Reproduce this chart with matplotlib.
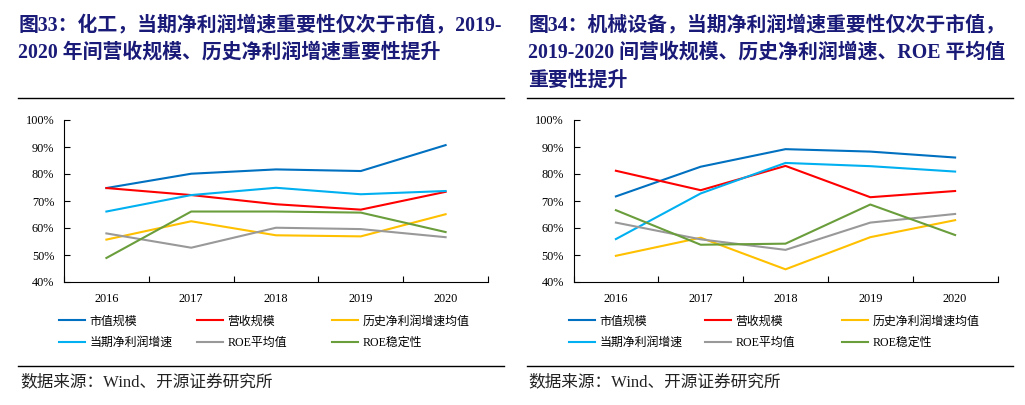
import matplotlib
matplotlib.use('Agg')
import matplotlib.pyplot as plt
from matplotlib.lines import Line2D

plt.rcParams['font.family'] = ['Liberation Serif', 'Noto Sans CJK SC', 'DejaVu Sans']

# 数据
years = ['2016', '2017', '2018', '2019', '2020']
series_names = ['市值规模', '营收规模', '历史净利润增速均值', '当期净利润增速', 'ROE平均值', 'ROE稳定性']
colors = ['#0070C0', '#FF0000', '#FFC000', '#00B0F0', '#999999', '#6A9D3B']

# 图33 化工
chem_mktcap = [74.8, 80.1, 81.7, 81.1, 90.7]
chem_revenue = [74.8, 72.2, 68.8, 66.8, 73.4]
chem_hist_profit = [55.7, 62.5, 57.3, 56.9, 65.1]
chem_cur_profit = [66.1, 72.2, 74.9, 72.5, 73.7]
chem_roe_avg = [58.0, 52.7, 60.1, 59.6, 56.6]
chem_roe_stab = [48.9, 66.1, 66.1, 65.7, 58.5]

# 图34 机械设备
mach_mktcap = [71.7, 82.7, 89.2, 88.3, 86.1]
mach_revenue = [81.2, 74.0, 83.0, 71.4, 73.7]
mach_hist_profit = [49.7, 56.4, 44.7, 56.6, 62.9]
mach_cur_profit = [55.9, 72.8, 84.1, 82.9, 80.9]
mach_roe_avg = [62.0, 55.8, 51.9, 62.0, 65.2]
mach_roe_stab = [66.6, 53.8, 54.2, 68.7, 57.4]

yticks = [40, 50, 60, 70, 80, 90, 100]

title_color = '#1A1A78'
W, H = 1025, 405

fig = plt.figure(figsize=(10.25, 4.05), dpi=100)


def px(x, y):
    return x / W, 1 - y / H


def draw_panel(left_px, data):
    l, _ = px(left_px, 0)
    ax = fig.add_axes([l, 1 - 282 / H, 424 / W, 162 / H])
    handles = []
    for vals, name, c in zip(data, series_names, colors):
        h, = ax.plot(range(len(years)), vals, color=c, lw=1.5, label=name)
        handles.append(h)
    ax.set_xlim(-0.5, 4.5)
    ax.set_ylim(40, 100)
    ax.set_yticks(yticks)
    ax.set_yticklabels([f'{v}%' for v in yticks])
    ax.set_xticks([i - 0.5 for i in range(len(years) + 1)])
    ax.set_xticklabels([])
    ax.set_xticks(range(len(years)), minor=True)
    ax.set_xticklabels(years, minor=True)
    ax.tick_params(axis='x', which='major', direction='in', length=4, width=0.8)
    ax.tick_params(axis='x', which='minor', length=0, pad=8, labelsize=8.8)
    ax.tick_params(axis='y', direction='in', length=4, width=0.8, pad=7, labelsize=8.8)
    for s in ['top', 'right']:
        ax.spines[s].set_visible(False)
    for s in ['left', 'bottom']:
        ax.spines[s].set_linewidth(0.8)
    return ax, handles


def draw_legend(handles, col_x, row_y=321):
    # 三列，每列两项
    cols = [[0, 3], [1, 4], [2, 5]]
    for idx, x in zip(cols, col_x):
        hs = [handles[i] for i in idx]
        fig.legend(hs, [h.get_label() for h in hs], loc='upper left',
                   bbox_to_anchor=px(x, row_y - 5.5), frameon=False,
                   fontsize=8.6, handlelength=2.2, handletextpad=0.33,
                   labelspacing=0.8, borderpad=0, borderaxespad=0)


chem = [chem_mktcap, chem_revenue, chem_hist_profit, chem_cur_profit, chem_roe_avg, chem_roe_stab]
mach = [mach_mktcap, mach_revenue, mach_hist_profit, mach_cur_profit, mach_roe_avg, mach_roe_stab]

ax1, h1 = draw_panel(64, chem)
ax2, h2 = draw_panel(573.5, mach)
draw_legend(h1, [59, 197, 332])
draw_legend(h2, [569, 705, 842])

# 标题
tkw = dict(fontsize=14.3, fontweight='bold', color=title_color, va='center', ha='left')
fig.text(*px(19, 25), '图33：化工，当期净利润增速重要性仅次于市值，2019-', **tkw)
fig.text(*px(18, 53), '2020 年间营收规模、历史净利润增速重要性提升', **tkw)
fig.text(*px(529, 25), '图34：机械设备，当期净利润增速重要性仅次于市值，', **tkw)
fig.text(*px(528, 53), '2019-2020 间营收规模、历史净利润增速、ROE 平均值', **tkw)
fig.text(*px(528, 81), '重要性提升', **tkw)

# 分隔线
for x0, x1 in [(18, 504), (527, 1013)]:
    for y in [98, 366]:
        fig.add_artist(Line2D([x0 / W, x1 / W], [1 - y / H, 1 - y / H], color='black', lw=1))

# 数据来源
skw = dict(fontsize=12, color='#222222', va='center', ha='left')
fig.text(*px(20, 382), '数据来源：Wind、开源证券研究所', **skw)
fig.text(*px(528, 382), '数据来源：Wind、开源证券研究所', **skw)

fig.savefig('out.png', dpi=100)
